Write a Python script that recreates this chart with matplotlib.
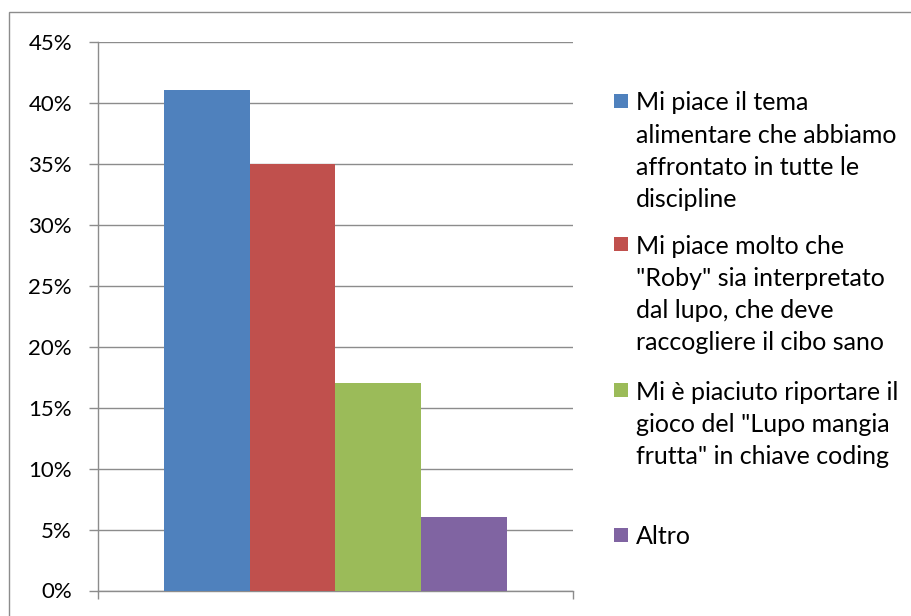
import matplotlib
matplotlib.use("Agg")
import matplotlib.pyplot as plt
from matplotlib.patches import Rectangle
from matplotlib.ticker import FuncFormatter, MultipleLocator

plt.rcParams['font.family'] = ['Lato', 'DejaVu Sans']

labels = [
    "Mi piace il tema\nalimentare che abbiamo\naffrontato in tutte le\ndiscipline",
    "Mi piace molto che\n\"Roby\" sia interpretato\ndal lupo, che deve\nraccogliere il cibo sano",
    "Mi è piaciuto riportare il\ngioco del \"Lupo mangia\nfrutta\" in chiave coding",
    "Altro",
]
values = [0.41, 0.35, 0.17, 0.06]
colors = ["#4F81BD", "#C0504D", "#9BBB59", "#8064A2"]

W, H = 912, 616
fig = plt.figure(figsize=(W / 100, H / 100), dpi=100)

# outer chart frame (only top and left edges fall inside the canvas)
fig.add_artist(Rectangle((9 / W, -0.1), 1.2, 1.1 - 12 / H, transform=fig.transFigure,
                         fill=False, edgecolor="#8c8c8c", linewidth=1.0))

ax_l, ax_r, ax_t, ax_b = 97.7, 573, 41.7, 590.5
ax = fig.add_axes([ax_l / W, 1 - ax_b / H, (ax_r - ax_l) / W, (ax_b - ax_t) / H])

xs = list(range(len(values)))
ax.bar(xs, values, width=1.0, color=colors, align="center", zorder=3)
ax.set_xlim(-1.275, len(values) - 1 + 1.275)
ax.set_ylim(0, 0.45)

ax.yaxis.set_major_locator(MultipleLocator(0.05))
ax.yaxis.set_major_formatter(FuncFormatter(lambda v, p: f"{round(v * 100)}%"))
ax.grid(axis="y", color="#8c8c8c", linewidth=1.0, zorder=0)
ax.set_xticks([ax.get_xlim()[0], ax.get_xlim()[1]])
ax.set_xticklabels([])
ax.tick_params(axis="y", length=6.5, width=1.0, color="#8c8c8c", pad=12,
               labelsize=16, labelcolor="black")
ax.tick_params(axis="x", length=5.5, width=1.0, color="#8c8c8c")
for side in ("top", "right"):
    ax.spines[side].set_visible(False)
for side in ("left", "bottom"):
    ax.spines[side].set_color("#8c8c8c")
    ax.spines[side].set_linewidth(1.0)

# legend on the right, one text line at a time
line_step = 32.3
entry_tops = [101, 244, 390, 535]
for lab, col, y0 in zip(labels, colors, entry_tops):
    fig.add_artist(Rectangle((614 / W, 1 - (y0 + 7) / H), 14 / W, 14 / H,
                             transform=fig.transFigure, facecolor=col, edgecolor="none"))
    for i, line in enumerate(lab.split("\n")):
        fig.text(636 / W, 1 - (y0 + i * line_step) / H, line, fontsize=18,
                 ha="left", va="center_baseline", color="black")

fig.savefig("out.png", dpi=100)
